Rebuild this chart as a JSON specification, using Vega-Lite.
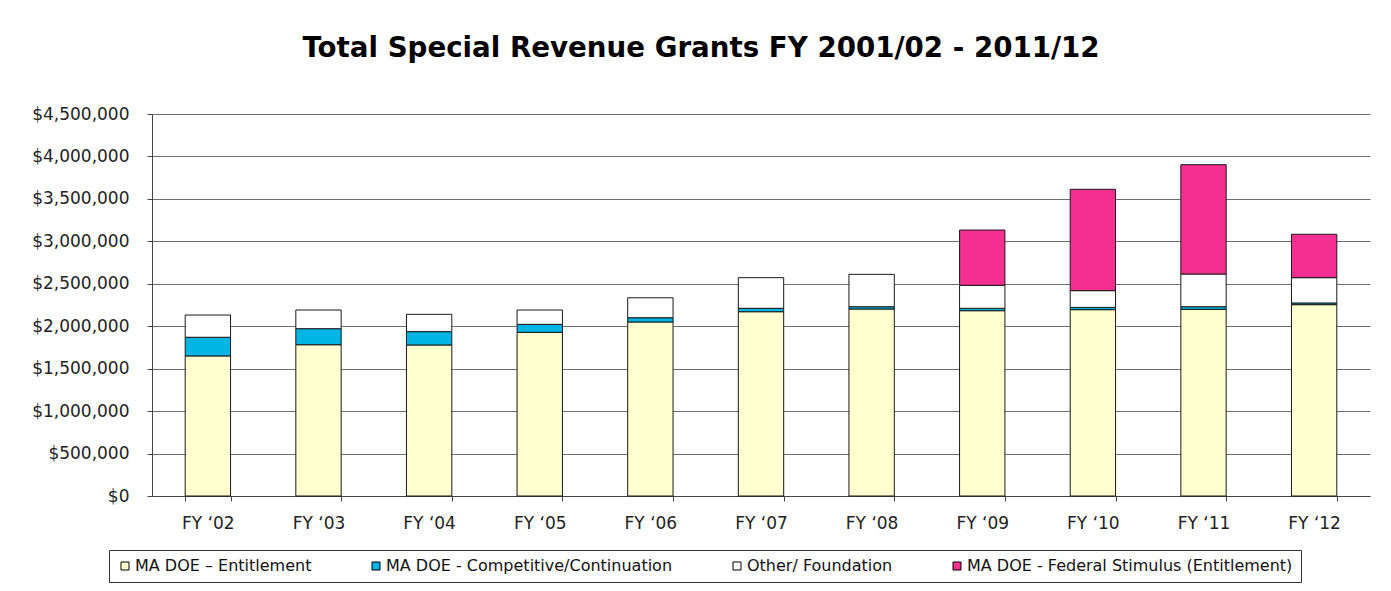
{
  "$schema": "https://vega.github.io/schema/vega-lite/v6.json",
  "width": 1218,
  "height": 382,
  "autosize": {"type": "none"},
  "padding": {"left": 152, "top": 114, "right": 21, "bottom": 95},
  "background": "#ffffff",
  "title": {
    "text": "Total Special Revenue Grants FY 2001/02 - 2011/12",
    "font": "DejaVu Sans",
    "fontSize": 27.7,
    "fontWeight": "bold",
    "color": "#000000",
    "anchor": "middle",
    "dx": -60,
    "offset": 42
  },
  "data": {
    "values": [
      {"fy": "FY ‘02", "series": "MA DOE – Entitlement", "ord": 1, "value": 1650000},
      {"fy": "FY ‘02", "series": "MA DOE - Competitive/Continuation", "ord": 2, "value": 220000},
      {"fy": "FY ‘02", "series": "Other/ Foundation", "ord": 3, "value": 262000},
      {"fy": "FY ‘03", "series": "MA DOE – Entitlement", "ord": 1, "value": 1782000},
      {"fy": "FY ‘03", "series": "MA DOE - Competitive/Continuation", "ord": 2, "value": 189000},
      {"fy": "FY ‘03", "series": "Other/ Foundation", "ord": 3, "value": 220000},
      {"fy": "FY ‘04", "series": "MA DOE – Entitlement", "ord": 1, "value": 1779000},
      {"fy": "FY ‘04", "series": "MA DOE - Competitive/Continuation", "ord": 2, "value": 157000},
      {"fy": "FY ‘04", "series": "Other/ Foundation", "ord": 3, "value": 204000},
      {"fy": "FY ‘05", "series": "MA DOE – Entitlement", "ord": 1, "value": 1928000},
      {"fy": "FY ‘05", "series": "MA DOE - Competitive/Continuation", "ord": 2, "value": 94000},
      {"fy": "FY ‘05", "series": "Other/ Foundation", "ord": 3, "value": 169000},
      {"fy": "FY ‘06", "series": "MA DOE – Entitlement", "ord": 1, "value": 2050000},
      {"fy": "FY ‘06", "series": "MA DOE - Competitive/Continuation", "ord": 2, "value": 50000},
      {"fy": "FY ‘06", "series": "Other/ Foundation", "ord": 3, "value": 235000},
      {"fy": "FY ‘07", "series": "MA DOE – Entitlement", "ord": 1, "value": 2171000},
      {"fy": "FY ‘07", "series": "MA DOE - Competitive/Continuation", "ord": 2, "value": 40000},
      {"fy": "FY ‘07", "series": "Other/ Foundation", "ord": 3, "value": 361000},
      {"fy": "FY ‘08", "series": "MA DOE – Entitlement", "ord": 1, "value": 2203000},
      {"fy": "FY ‘08", "series": "MA DOE - Competitive/Continuation", "ord": 2, "value": 27000},
      {"fy": "FY ‘08", "series": "Other/ Foundation", "ord": 3, "value": 381000},
      {"fy": "FY ‘09", "series": "MA DOE – Entitlement", "ord": 1, "value": 2183000},
      {"fy": "FY ‘09", "series": "MA DOE - Competitive/Continuation", "ord": 2, "value": 28000},
      {"fy": "FY ‘09", "series": "Other/ Foundation", "ord": 3, "value": 271000},
      {"fy": "FY ‘09", "series": "MA DOE - Federal Stimulus (Entitlement)", "ord": 4, "value": 651000},
      {"fy": "FY ‘10", "series": "MA DOE – Entitlement", "ord": 1, "value": 2195000},
      {"fy": "FY ‘10", "series": "MA DOE - Competitive/Continuation", "ord": 2, "value": 27000},
      {"fy": "FY ‘10", "series": "Other/ Foundation", "ord": 3, "value": 197000},
      {"fy": "FY ‘10", "series": "MA DOE - Federal Stimulus (Entitlement)", "ord": 4, "value": 1194000},
      {"fy": "FY ‘11", "series": "MA DOE – Entitlement", "ord": 1, "value": 2199000},
      {"fy": "FY ‘11", "series": "MA DOE - Competitive/Continuation", "ord": 2, "value": 31000},
      {"fy": "FY ‘11", "series": "Other/ Foundation", "ord": 3, "value": 385000},
      {"fy": "FY ‘11", "series": "MA DOE - Federal Stimulus (Entitlement)", "ord": 4, "value": 1288000},
      {"fy": "FY ‘12", "series": "MA DOE – Entitlement", "ord": 1, "value": 2254000},
      {"fy": "FY ‘12", "series": "MA DOE - Competitive/Continuation", "ord": 2, "value": 20000},
      {"fy": "FY ‘12", "series": "Other/ Foundation", "ord": 3, "value": 298000},
      {"fy": "FY ‘12", "series": "MA DOE - Federal Stimulus (Entitlement)", "ord": 4, "value": 511000}
    ]
  },
  "mark": {"type": "bar", "stroke": "#1a1a1a", "strokeWidth": 1},
  "encoding": {
    "x": {
      "field": "fy",
      "type": "nominal",
      "sort": null,
      "title": null,
      "scale": {"paddingInner": 0.59, "paddingOuter": 0.3},
      "axis": {
        "labelAngle": 0,
        "labelFont": "DejaVu Sans",
        "labelFontSize": 17,
        "labelColor": "#222222",
        "labelPadding": 14,
        "tickBand": "extent",
        "tickSize": 5,
        "tickColor": "#444444",
        "domainColor": "#444444",
        "grid": false
      }
    },
    "y": {
      "field": "value",
      "type": "quantitative",
      "stack": "zero",
      "title": null,
      "scale": {"domain": [0, 4500000], "nice": false},
      "axis": {
        "values": [0, 500000, 1000000, 1500000, 2000000, 2500000, 3000000, 3500000, 4000000, 4500000],
        "format": "$,.0f",
        "labelFont": "DejaVu Sans",
        "labelFontSize": 17,
        "labelColor": "#222222",
        "labelPadding": 18,
        "tickSize": 5,
        "tickColor": "#444444",
        "domainColor": "#444444",
        "grid": true,
        "gridColor": "#6e6e6e",
        "gridWidth": 1
      }
    },
    "color": {
      "field": "series",
      "type": "nominal",
      "scale": {
        "domain": ["MA DOE – Entitlement", "MA DOE - Competitive/Continuation", "Other/ Foundation", "MA DOE - Federal Stimulus (Entitlement)"],
        "range": ["#FFFFCF", "#00B5E5", "#FFFFFF", "#F42F90"]
      },
      "legend": {
        "title": null,
        "orient": "none",
        "direction": "horizontal",
        "columns": 4,
        "legendX": -43,
        "legendY": 436,
        "padding": 8,
        "columnPadding": 56,
        "labelFont": "DejaVu Sans",
        "labelFontSize": 16,
        "labelColor": "#111111",
        "labelOffset": 2,
        "labelLimit": 0,
        "symbolType": "square",
        "symbolSize": 64,
        "symbolStrokeColor": "#000000",
        "symbolStrokeWidth": 1,
        "strokeColor": "#333333",
        "fillColor": "#ffffff"
      }
    },
    "order": {"field": "ord", "type": "quantitative", "sort": "ascending"}
  },
  "config": {
    "view": {"stroke": null}
  }
}
